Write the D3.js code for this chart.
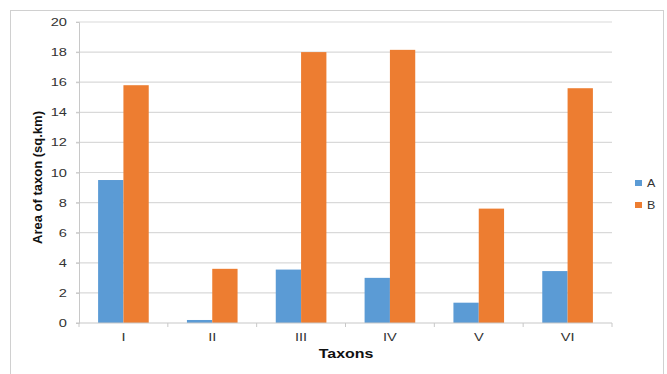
<!DOCTYPE html>
<html>
<head>
<meta charset="utf-8">
<script src="https://cdn.jsdelivr.net/npm/d3@7"></script>
<style>
  html, body { margin: 0; padding: 0; background: #fff; }
  svg { display: block; font-family: Arial, "Liberation Sans", sans-serif; }
</style>
</head>
<body>
<svg id="chart" width="667" height="374"></svg>
<script>
// Area of each taxon per series
const categories = ["I", "II", "III", "IV", "V", "VI"];
const seriesNames = ["A", "B"];
const valuesA = [9.5, 0.2, 3.55, 3.0, 1.35, 3.45];
const valuesB = [15.8, 3.6, 18.0, 18.15, 7.6, 15.6];
const yTicks = [0, 2, 4, 6, 8, 10, 12, 14, 16, 18, 20];
const colors = ["#5B9BD5", "#ED7D31"];

const svg = d3.select("#chart");
const margin = { left: 79, right: 612, top: 22, bottom: 323 };
const wide = 1.33; // horizontal stretch used for the labels

// outer frame
svg.append("rect")
  .attr("x", 10.5).attr("y", 10.5)
  .attr("width", 653).attr("height", 380)
  .attr("fill", "none").attr("stroke", "#d0d0d0").attr("stroke-width", 1);

const y = d3.scaleLinear().domain([0, 20]).range([margin.bottom, margin.top]);
const x0 = d3.scaleBand().domain(categories)
  .range([margin.left, margin.right])
  .paddingInner(0.43).paddingOuter(0.215);
const x1 = d3.scaleBand().domain(seriesNames).range([0, x0.bandwidth()]);

// gridlines
svg.append("g")
  .selectAll("line")
  .data(yTicks.filter(t => t > 0))
  .join("line")
  .attr("x1", margin.left - 3).attr("x2", margin.right)
  .attr("y1", d => y(d)).attr("y2", d => y(d))
  .attr("stroke", "#d9d9d9").attr("stroke-width", 1.2);

// y axis
const yAxis = svg.append("g")
  .attr("transform", `translate(${margin.left},0)`)
  .call(d3.axisLeft(y).tickValues(yTicks).tickSize(3).tickPadding(0));
yAxis.select(".domain").attr("stroke", "#c8c8c8");
yAxis.selectAll(".tick line").attr("stroke", "#c8c8c8");
yAxis.selectAll(".tick text")
  .attr("x", 0)
  .attr("transform", `translate(-12,0) scale(${wide},1)`)
  .attr("font-size", 11).attr("fill", "#333")
  .attr("font-family", "Arial, 'Liberation Sans', sans-serif");

// bars
const data = categories.map((c, i) => ({ cat: c, vals: [valuesA[i], valuesB[i]] }));
svg.append("g")
  .selectAll("g")
  .data(data)
  .join("g")
  .attr("transform", d => `translate(${x0(d.cat)},0)`)
  .selectAll("rect")
  .data(d => d.vals.map((v, j) => ({ key: seriesNames[j], v, j })))
  .join("rect")
  .attr("x", d => x1(d.key))
  .attr("width", x1.bandwidth())
  .attr("y", d => y(d.v))
  .attr("height", d => y(0) - y(d.v))
  .attr("fill", d => colors[d.j]);

// x axis with ticks at category boundaries
const boundaries = d3.range(categories.length + 1).map(i => margin.left + i * x0.step());
const xAxisG = svg.append("g");
xAxisG.append("line")
  .attr("x1", margin.left - 3).attr("x2", margin.right)
  .attr("y1", y(0)).attr("y2", y(0))
  .attr("stroke", "#c8c8c8").attr("stroke-width", 1.2);
xAxisG.selectAll("line.tk")
  .data(boundaries)
  .join("line")
  .attr("class", "tk")
  .attr("x1", d => d).attr("x2", d => d)
  .attr("y1", y(0)).attr("y2", y(0) + 4)
  .attr("stroke", "#c8c8c8");
xAxisG.selectAll("text")
  .data(categories)
  .join("text")
  .attr("transform", d => `translate(${x0(d) + x0.bandwidth() / 2},${y(0) + 18}) scale(${wide},1)`)
  .attr("text-anchor", "middle")
  .attr("font-size", 11).attr("fill", "#333")
  .text(d => d);

// axis titles
svg.append("text")
  .attr("transform", `translate(42,177.5) rotate(-90)`)
  .attr("text-anchor", "middle")
  .attr("font-size", 13).attr("font-weight", "bold").attr("fill", "#111")
  .text("Area of taxon (sq.km)");
svg.append("text")
  .attr("transform", "translate(346,358) scale(1.18,1)")
  .attr("text-anchor", "middle")
  .attr("font-size", 13.5).attr("font-weight", "bold").attr("fill", "#111")
  .text("Taxons");

// legend
const legend = svg.append("g").attr("transform", "translate(635,180)");
seriesNames.forEach((s, i) => {
  legend.append("rect")
    .attr("x", 0).attr("y", i * 22)
    .attr("width", 7).attr("height", 6)
    .attr("fill", colors[i]);
  legend.append("text")
    .attr("transform", `translate(12,${i * 22 + 7}) scale(1.25,1)`)
    .attr("font-size", 10).attr("fill", "#333")
    .text(s);
});
</script>
</body>
</html>
